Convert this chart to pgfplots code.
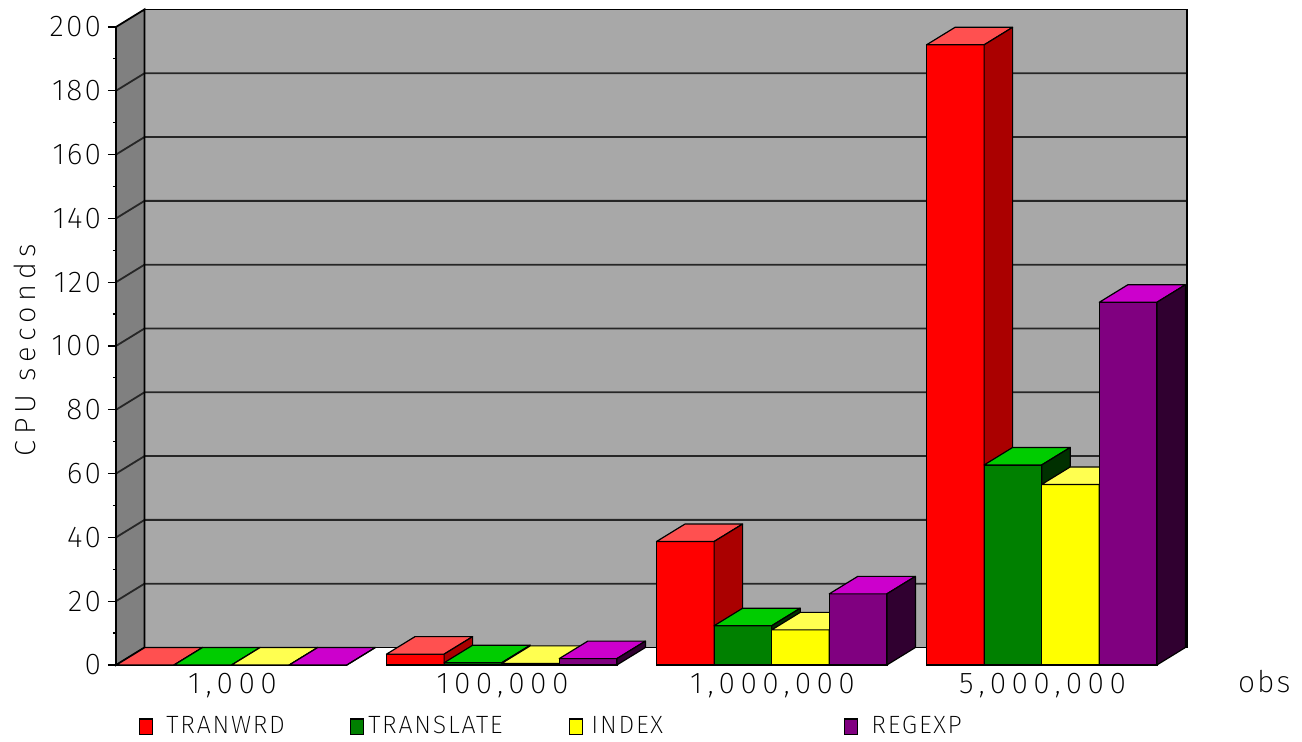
\documentclass[border=0pt]{standalone}
\usepackage{fontspec}
\setmainfont{Fira Sans ExtraLight}[LetterSpace=7.0]
\newfontfamily\widefont{Fira Sans ExtraLight}[LetterSpace=18.0]
\usepackage{pgfplots}
\usepackage{pgfplotstable}
\pgfplotsset{compat=1.18}

% face colours: front / top / side
\definecolor{redF}{HTML}{FF0000}\definecolor{redT}{HTML}{FF5050}\definecolor{redS}{HTML}{AA0000}
\definecolor{grnF}{HTML}{008000}\definecolor{grnT}{HTML}{00CC00}\definecolor{grnS}{HTML}{003000}
\definecolor{yelF}{HTML}{FFFF00}\definecolor{yelT}{HTML}{FFFF50}\definecolor{yelS}{HTML}{AAAA00}
\definecolor{purF}{HTML}{800080}\definecolor{purT}{HTML}{CC00CC}\definecolor{purS}{HTML}{300030}
\definecolor{wallBack}{HTML}{A8A8A8}\definecolor{wallSide}{HTML}{808080}

% CPU seconds per function, groups 0..3 = 1,000 / 100,000 / 1,000,000 / 5,000,000 obs
\pgfplotstableread{
g tranwrd translate index regexp
0 0     0    0    0
1 3.4   0.7  0.5  2.0
2 38.7  12.3 11.0 22.3
3 194.4 62.7 56.6 113.7
}\cpu

% a 3-D bar drawn at the top centre of its front face:
% \barval is the bar's value, 1 unit = 1.595pt, bar width 28.8pt, depth (14.25pt, 8.75pt)
\newcommand\declarebox[4]{%
  \pgfdeclareplotmark{box-#1}{%
    \pgfmathsetmacro\barh{\barval*1.595}%
    \pgfsetlinewidth{0.6pt}\pgfsetroundjoin\pgfsetstrokecolor{black}%
    % front
    \pgfpathrectanglecorners{\pgfpoint{-14.4pt}{-\barh pt}}{\pgfpoint{14.4pt}{0pt}}%
    \pgfsetfillcolor{#2}\pgfusepath{fill,stroke}%
    % top
    \pgfpathmoveto{\pgfpoint{-14.4pt}{0pt}}%
    \pgfpathlineto{\pgfpoint{14.4pt}{0pt}}%
    \pgfpathlineto{\pgfpoint{28.65pt}{8.75pt}}%
    \pgfpathlineto{\pgfpoint{-0.15pt}{8.75pt}}%
    \pgfpathclose
    \pgfsetfillcolor{#3}\pgfusepath{fill,stroke}%
    % side
    \pgfpathmoveto{\pgfpoint{14.4pt}{0pt}}%
    \pgfpathlineto{\pgfpoint{14.4pt}{-\barh pt}}%
    \pgfpathlineto{\pgfpoint{28.65pt}{8.75pt-\barh pt}}%
    \pgfpathlineto{\pgfpoint{28.65pt}{8.75pt}}%
    \pgfpathclose
    \pgfsetfillcolor{#4}\pgfusepath{fill,stroke}%
  }}
\declarebox{red}{redF}{redT}{redS}
\declarebox{grn}{grnF}{grnT}{grnS}
\declarebox{yel}{yelF}{yelT}{yelS}
\declarebox{pur}{purF}{purT}{purS}

\pgfplotsset{
  front/.style={ybar, bar width=57.6, bar shift=0pt, draw=black, line width=0.6pt, fill=#1,
    legend image code/.code={\draw[fill=#1, draw=black, line width=0.6pt] (0pt,-3.8pt) rectangle (6.7pt,3.8pt);}},
  faces/.style={only marks, scatter, mark=box-#1, forget plot,
    visualization depends on={rawy \as \barval}},
}

\begin{document}
\begin{tikzpicture}
\path[use as bounding box] (0,0) rectangle (651pt,371pt);
\begin{axis}[
  at={(58pt,38.5pt)}, anchor=south west,
  x=0.5pt, y=1.595pt,
  xmin=116, xmax=1159, ymin=0, ymax=200,
  clip=false,
  axis lines*=left,
  x axis line style={draw=none},
  y axis line style={black, line width=0.6pt},
  tick align=outside,
  major tick length=4pt, minor tick length=1.5pt,
  ytick={0,20,...,200}, minor y tick num=1,
  ytick style={black, line width=0.6pt},
  xtick={232.5,502.5,772.5,1042.5},
  xticklabels={{1,000},{100,000},{1,000,000},{5,000,000}},
  xtick style={draw=none},
  /pgf/number format/assume math mode=true,
  yticklabel style={anchor=east, font=\fontsize{15}{18}\selectfont},
  xticklabel style={anchor=north, yshift=3.5pt, font=\widefont\fontsize{15}{18}\selectfont},
  ylabel={CPU seconds},
  ylabel style={at={(axis cs:25,98.7)}, anchor=center, font=\widefont\fontsize{14.5}{17}\selectfont},
  xlabel={obs},
  xlabel style={at={(axis cs:1231,-8.78)}, anchor=base west, font=\fontsize{15}{18}\selectfont},
  legend columns=4,
  legend cell align=left,
  legend style={at={(axis cs:138.3,-19.3)}, anchor=west, draw=none, fill=none,
    inner sep=0pt, font=\fontsize{12.5}{15}\selectfont, nodes={inner xsep=0pt},
    /tikz/every odd column/.append style={column sep=2pt}},
]
% walls of the box
\fill[wallBack] (axis cs:144.5,5.5) rectangle (axis cs:1187,205.5);
\fill[wallSide] (axis cs:116,0) -- (axis cs:116,200) -- (axis cs:144.5,205.5)
  -- (axis cs:144.5,5.5) -- cycle;
\pgfplotsinvokeforeach{20,40,...,180}{
  \draw[black!85, line width=0.9pt] (axis cs:116,#1) -- ++(14.25pt,8.75pt) -- ++(521.25pt,0pt);
}
\draw[black, line width=0.9pt] (axis cs:144.5,5.5) rectangle (axis cs:1187,205.5);
\draw[black, line width=0.9pt] (axis cs:116,0) -- (axis cs:116,200) -- (axis cs:144.5,205.5)
  -- (axis cs:144.5,5.5) -- cycle;

\addplot[front=redF] table[x expr=145.3+270*\thisrow{g}, y=tranwrd] {\cpu};
\addlegendentry[text width=96.2pt, align=left]{\hspace*{4.6pt}TRANWRD}
\addplot[front=grnF] table[x expr=202.9+270*\thisrow{g}, y=translate] {\cpu};
\addlegendentry[text width=100.2pt, align=left]{TRANSLATE}
\addplot[front=yelF] table[x expr=260.5+270*\thisrow{g}, y=index] {\cpu};
\addlegendentry[text width=128.2pt, align=left]{\hspace*{2.1pt}INDEX}
\addplot[front=purF] table[x expr=318.1+270*\thisrow{g}, y=regexp] {\cpu};
\addlegendentry[text width=60pt, align=left]{\hspace*{4.6pt}REGEXP}

% shaded faces, left to right so that each bar hides the side of the one before
\addplot[faces=red] table[x expr=145.3+270*\thisrow{g}, y=tranwrd] {\cpu};
\addplot[faces=grn] table[x expr=202.9+270*\thisrow{g}, y=translate] {\cpu};
\addplot[faces=yel] table[x expr=260.5+270*\thisrow{g}, y=index] {\cpu};
\addplot[faces=pur] table[x expr=318.1+270*\thisrow{g}, y=regexp] {\cpu};
\end{axis}
\end{tikzpicture}
\end{document}
